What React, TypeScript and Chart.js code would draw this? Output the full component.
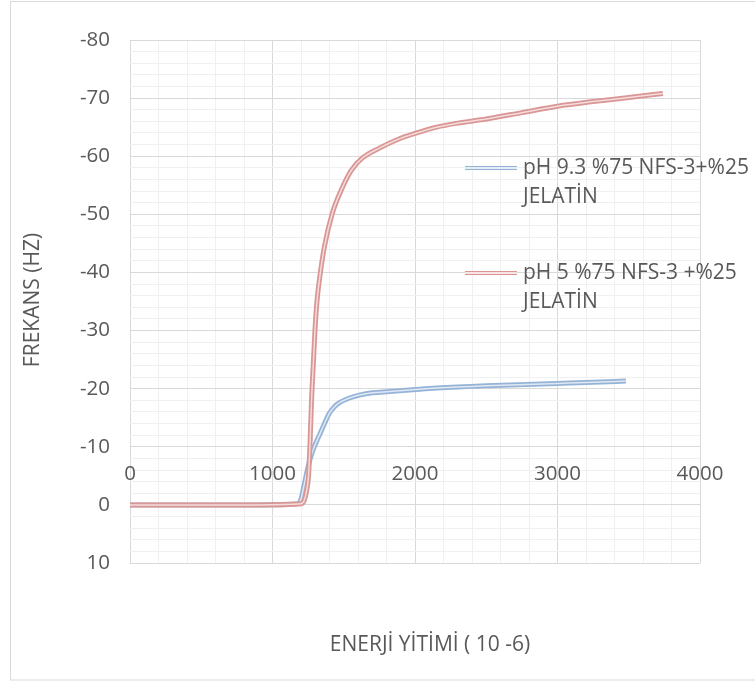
import React, { useEffect, useRef } from "react";
import { Chart, registerables } from "chart.js";

Chart.register(...registerables);

// ---- data ----
const xTickLabels = [0, 1000, 2000, 3000, 4000];
const yMin = -80;
const yMax = 10;

const seriesBlueName = ["pH 9.3 %75 NFS-3+%25", "JELATİN"];
const seriesRedName = ["pH 5 %75 NFS-3 +%25", "JELATİN"];

const blueX = [0, 300, 600, 900, 1180, 1200, 1215, 1232, 1250, 1275, 1300, 1329, 1365, 1400, 1435, 1470, 1540, 1610, 1701, 1821, 1983, 2151, 2500, 3000, 3250, 3480];
const blueY = [0, 0, 0, 0, -0.2, -1, -2.6, -4.6, -6.6, -8.8, -10.4, -12, -14, -15.8, -16.9, -17.6, -18.4, -18.9, -19.3, -19.5, -19.8, -20.1, -20.5, -20.9, -21.1, -21.3];

const redX = [0, 300, 600, 900, 1200, 1223, 1240, 1253, 1264, 1274, 1286, 1298, 1312, 1329, 1364, 1420, 1483, 1554, 1631, 1750, 1870, 2011, 2151, 2300, 2500, 2750, 3000, 3250, 3500, 3740];
const redY = [0, 0, 0, 0, -0.2, -0.8, -2.5, -5, -11, -18, -24, -30, -35, -38.7, -44.4, -50.2, -54.2, -57.6, -59.7, -61.4, -62.8, -64.0, -65.0, -65.7, -66.4, -67.5, -68.6, -69.4, -70.1, -70.8];

const xTitle = "ENERJİ YİTİMİ ( 10 -6)";
const yTitle = "FREKANS (HZ)";

const BLUE = "#95b3d7";
const BLUE_IN = "#dfe8f3";
const RED = "#d99694";
const RED_IN = "#f3dcdb";
const TEXT = "#595959";
const FONT = "'Open Sans', Lato, sans-serif";
const TICK_SIZE = 20.5;
const LABEL_SIZE = 21;

function pts(xs: number[], ys: number[]) {
  return xs.map((x, i) => ({ x, y: ys[i] }));
}

const decorPlugin = {
  id: "decor",
  beforeDraw(chart: any) {
    const ctx = chart.ctx;
    ctx.save();
    ctx.fillStyle = "#ffffff";
    ctx.fillRect(0, 0, chart.width, chart.height);
    ctx.strokeStyle = "#d9d9d9";
    ctx.lineWidth = 1;
    ctx.strokeRect(10.5, 1.5, chart.width + 20, chart.height - 2.5);
    ctx.restore();
  },
  afterDraw(chart: any) {
    const ctx = chart.ctx;
    const xs = chart.scales.x;
    const ys = chart.scales.y;
    ctx.save();
    ctx.fillStyle = TEXT;
    ctx.font = `${TICK_SIZE}px ${FONT}`;
    ctx.textAlign = "center";
    ctx.textBaseline = "middle";
    const y0 = ys.getPixelForValue(0);
    xTickLabels.forEach((v) => {
      ctx.fillText(String(v), xs.getPixelForValue(v), y0 - 31);
    });
    // axis titles
    ctx.font = `${LABEL_SIZE}px ${FONT}`;
    ctx.fillText(xTitle, 430, 645);
    ctx.save();
    ctx.translate(33, 300);
    ctx.rotate(-Math.PI / 2);
    ctx.fillText(yTitle, 0, 0);
    ctx.restore();
    // legend
    const drawEntry = (y: number, outer: string, lines: string[]) => {
      ctx.lineCap = "butt";
      ctx.strokeStyle = outer;
      ctx.lineWidth = 4;
      ctx.beginPath();
      ctx.moveTo(465, y);
      ctx.lineTo(517, y);
      ctx.stroke();
      ctx.strokeStyle = "#ffffff";
      ctx.lineWidth = 1.5;
      ctx.beginPath();
      ctx.moveTo(465, y);
      ctx.lineTo(517, y);
      ctx.stroke();
      ctx.textAlign = "left";
      lines.forEach((t, i) => ctx.fillText(t, 523, y + i * 29));
    };
    drawEntry(168, BLUE, seriesBlueName);
    drawEntry(273, RED, seriesRedName);
    ctx.restore();
  },
};

export default function App() {
  const ref = useRef<HTMLCanvasElement | null>(null);
  useEffect(() => {
    if (!ref.current) return;
    const common = {
      pointRadius: 0,
      fill: false,
      cubicInterpolationMode: "monotone" as const,
    };
    const chart = new Chart(ref.current, {
      type: "line",
      data: {
        datasets: [
          { ...common, label: "red-in", data: pts(redX, redY), borderColor: RED_IN, borderWidth: 1.5, order: 0 },
          { ...common, label: "red", data: pts(redX, redY), borderColor: RED, borderWidth: 5, order: 1 },
          { ...common, label: "blue-in", data: pts(blueX, blueY), borderColor: BLUE_IN, borderWidth: 1.5, order: 2 },
          { ...common, label: "blue", data: pts(blueX, blueY), borderColor: BLUE, borderWidth: 5, order: 3 },
        ],
      },
      options: {
        animation: false,
        responsive: false,
        maintainAspectRatio: false,
        layout: { padding: { left: 10, top: 40, right: 55, bottom: 118 } },
        plugins: { legend: { display: false }, tooltip: { enabled: false } },
        scales: {
          x: {
            type: "linear",
            position: "bottom",
            min: 0,
            max: 4000,
            ticks: { display: false, stepSize: 200 },
            grid: {
              drawTicks: false,
              color: (c: any) => (c.tick && c.tick.value % 1000 === 0 ? "#d9d9d9" : "#f0f0f0"),
              lineWidth: 1,
            },
            border: { display: false },
            afterFit: (s: any) => {
              s.height = 0;
            },
          },
          y: {
            type: "linear",
            reverse: true,
            min: yMin,
            max: yMax,
            afterFit: (s: any) => {
              s.width = 120;
            },
            ticks: {
              stepSize: 2,
              autoSkip: false,
              padding: 20,
              color: TEXT,
              font: { family: FONT, size: TICK_SIZE },
              callback: (v: any) => (Number(v) % 10 === 0 ? String(v) : ""),
            },
            grid: {
              drawTicks: false,
              color: (c: any) => (c.tick && c.tick.value % 10 === 0 ? "#d9d9d9" : "#f0f0f0"),
              lineWidth: 1,
            },
            border: { display: false },
          },
        },
      },
      plugins: [decorPlugin],
    });
    return () => chart.destroy();
  }, []);
  return (
    <div style={{ position: "fixed", left: 0, top: 0, width: 755, height: 681 }}>
      <canvas ref={ref} width={755} height={681} />
    </div>
  );
}
